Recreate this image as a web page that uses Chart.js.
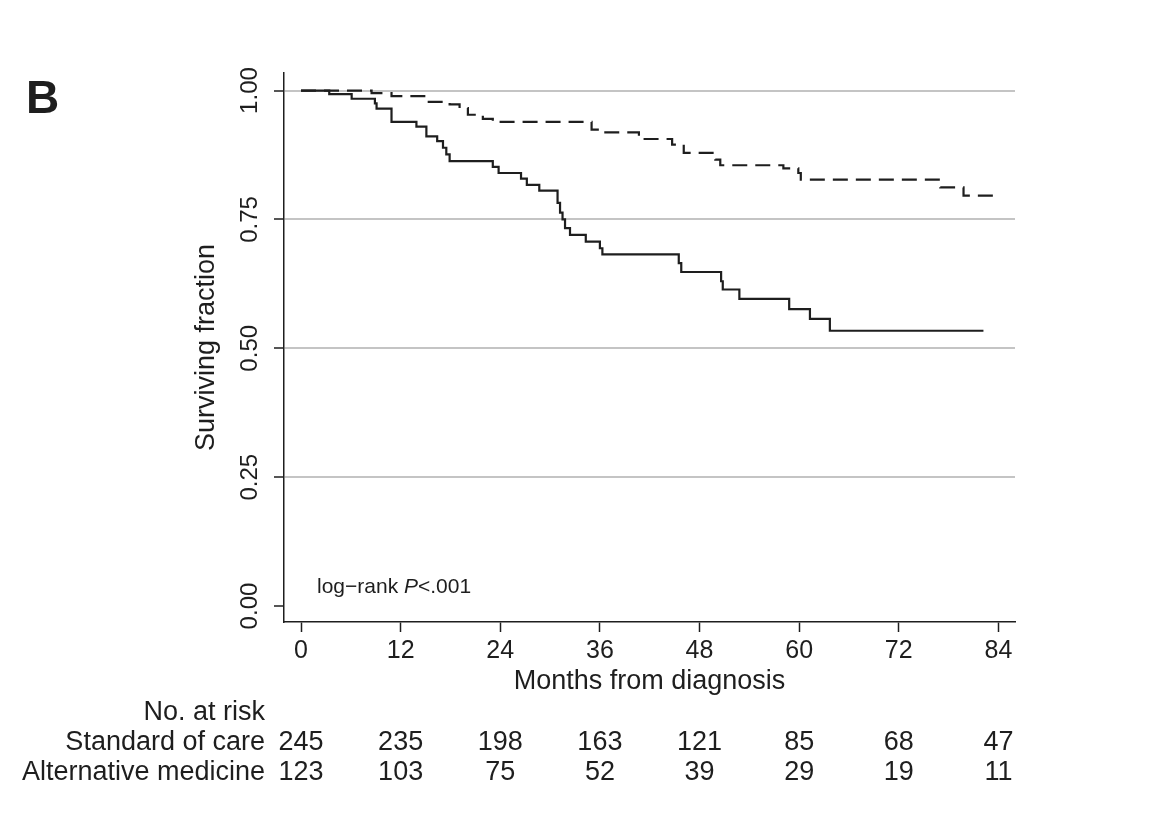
<!DOCTYPE html>
<html>
<head>
<meta charset="utf-8">
<script src="https://cdn.jsdelivr.net/npm/chart.js@4.4.1/dist/chart.umd.min.js"></script>
<style>
  html, body { margin: 0; padding: 0; background: #fff; }
  #wrap { width: 1170px; height: 837px; }
</style>
</head>
<body>
<div id="wrap"><canvas id="km" width="1170" height="837"></canvas></div>
<script>
// Curvas de supervivencia (Kaplan-Meier)

// Meses en los que cae la curva y fracción superviviente después de cada caída
const altTimes = [0, 3.4, 6.1, 8.9, 9.1, 10.9, 13.9, 15.1, 16.4, 17.1, 17.5, 17.9, 23.1, 23.8,
    26.5, 27.2, 28.7, 30.9, 31.2, 31.5, 31.8, 32.4, 34.3, 36.0, 36.3, 45.5, 45.8, 50.6, 50.8,
    52.8, 58.8, 61.3, 63.7, 82.2];
const altSurv = [1.0, 0.993, 0.984, 0.975, 0.965, 0.939, 0.930, 0.911, 0.902, 0.889, 0.876, 0.863,
    0.852, 0.840, 0.829, 0.817, 0.806, 0.782, 0.763, 0.750, 0.733, 0.720, 0.707, 0.694, 0.682,
    0.665, 0.648, 0.630, 0.614, 0.596, 0.576, 0.557, 0.534, 0.534];

const socTimes = [0, 8.5, 10.9, 15.1, 17.9, 19.1, 20.1, 21.9, 23.1, 35.0, 36.0, 40.7, 44.7, 46.1,
    49.9, 50.5, 58.1, 59.9, 60.2, 77.0, 79.8, 83.6];
const socSurv = [1.0, 0.995, 0.989, 0.978, 0.973, 0.966, 0.953, 0.945, 0.939, 0.924, 0.919, 0.906,
    0.895, 0.879, 0.866, 0.855, 0.849, 0.840, 0.827, 0.812, 0.796, 0.796];

// Ejes
const xTicks = [0, 12, 24, 36, 48, 60, 72, 84];
const yTicks = [0, 0.25, 0.5, 0.75, 1.0];

// Tabla de número en riesgo
const riskGroups = ['Standard of care', 'Alternative medicine'];
const riskSoc = [245, 235, 198, 163, 121, 85, 68, 47];
const riskAlt = [123, 103, 75, 52, 39, 29, 19, 11];

const FONT = '"Liberation Sans", Arial, Helvetica, sans-serif';
const INK = '#1e1e1e';

function toPoints(times, surv) {
    return times.map((t, i) => ({ x: t, y: surv[i] }));
}

// Texto adicional: letra del panel, log-rank y tabla en riesgo
const extras = {
    id: 'extras',
    afterDraw(chart) {
        const ctx = chart.ctx;
        const xs = chart.scales.x;
        ctx.save();
        ctx.fillStyle = INK;

        ctx.font = 'bold 46px ' + FONT;
        ctx.textAlign = 'left';
        ctx.textBaseline = 'alphabetic';
        ctx.fillText('B', 26, 113);

        // log-rank P<.001
        ctx.textBaseline = 'middle';
        let x = 317;
        const y = 587;
        ctx.font = '21px ' + FONT;
        ctx.fillText('log\u2212rank ', x, y);
        x += ctx.measureText('log\u2212rank ').width;
        ctx.font = 'italic 21px ' + FONT;
        ctx.fillText('P', x, y);
        x += ctx.measureText('P').width;
        ctx.font = '21px ' + FONT;
        ctx.fillText('<.001', x, y);

        // No. at risk
        ctx.textBaseline = 'alphabetic';
        ctx.font = '27px ' + FONT;
        ctx.textAlign = 'right';
        ctx.fillText('No. at risk', 265, 720);
        ctx.fillText(riskGroups[0], 265, 750);
        ctx.fillText(riskGroups[1], 265, 780);
        ctx.textAlign = 'center';
        xTicks.forEach((t, i) => {
            const px = xs.getPixelForValue(t);
            ctx.fillText(String(riskSoc[i]), px, 750);
            ctx.fillText(String(riskAlt[i]), px, 780);
        });
        ctx.restore();
    }
};

const kmCtx = document.getElementById('km').getContext('2d');

const chartKM = new Chart(kmCtx, {
    type: 'line',
    data: {
        datasets: [{
            label: 'Standard of care',
            data: toPoints(socTimes, socSurv),
            borderColor: INK,
            borderWidth: 2.2,
            borderDash: [15, 8],
            pointRadius: 0,
            fill: false,
            stepped: 'before'
        }, {
            label: 'Alternative medicine',
            data: toPoints(altTimes, altSurv),
            borderColor: INK,
            borderWidth: 2.2,
            pointRadius: 0,
            fill: false,
            stepped: 'before'
        }]
    },
    options: {
        responsive: false,
        animation: false,
        devicePixelRatio: 1,
        layout: { padding: { left: 184, right: 155, top: 73, bottom: 135 } },
        plugins: { legend: { display: false }, tooltip: { enabled: false } },
        scales: {
            x: {
                type: 'linear',
                min: -2.05,
                max: 86.0,
                afterBuildTicks: (s) => { s.ticks = xTicks.map(v => ({ value: v })); },
                afterFit: (s) => { s.height = 80; },
                border: { display: true, color: INK, width: 1.5 },
                grid: { drawOnChartArea: false, drawTicks: true, tickLength: 10, tickColor: INK, tickWidth: 1.5 },
                ticks: { color: INK, font: { family: FONT, size: 25 }, padding: 4, maxRotation: 0, autoSkip: false },
                title: {
                    display: true,
                    text: 'Months from diagnosis',
                    color: INK,
                    font: { family: FONT, size: 27 },
                    padding: { top: 0, bottom: 4 }
                }
            },
            y: {
                type: 'linear',
                min: -0.031,
                max: 1.034,
                afterBuildTicks: (s) => { s.ticks = yTicks.map(v => ({ value: v })); },
                afterFit: (s) => { s.width = 100; },
                border: { display: true, color: INK, width: 1.5 },
                grid: {
                    color: (c) => (c.tick && c.tick.value === 0) ? 'rgba(0,0,0,0)' : '#c4c4c4',
                    lineWidth: 2,
                    drawTicks: true,
                    tickLength: 10,
                    tickColor: INK,
                    tickWidth: 1.5
                },
                ticks: {
                    color: INK,
                    font: { family: FONT, size: 24 },
                    padding: 0,
                    minRotation: 90,
                    maxRotation: 90,
                    crossAlign: 'center',
                    autoSkip: false,
                    callback: (v) => Number(v).toFixed(2)
                },
                title: {
                    display: true,
                    text: 'Surviving fraction',
                    color: INK,
                    font: { family: FONT, size: 27 },
                    padding: { top: 6, bottom: 0 }
                }
            }
        }
    },
    plugins: [extras]
});
</script>
</body>
</html>
